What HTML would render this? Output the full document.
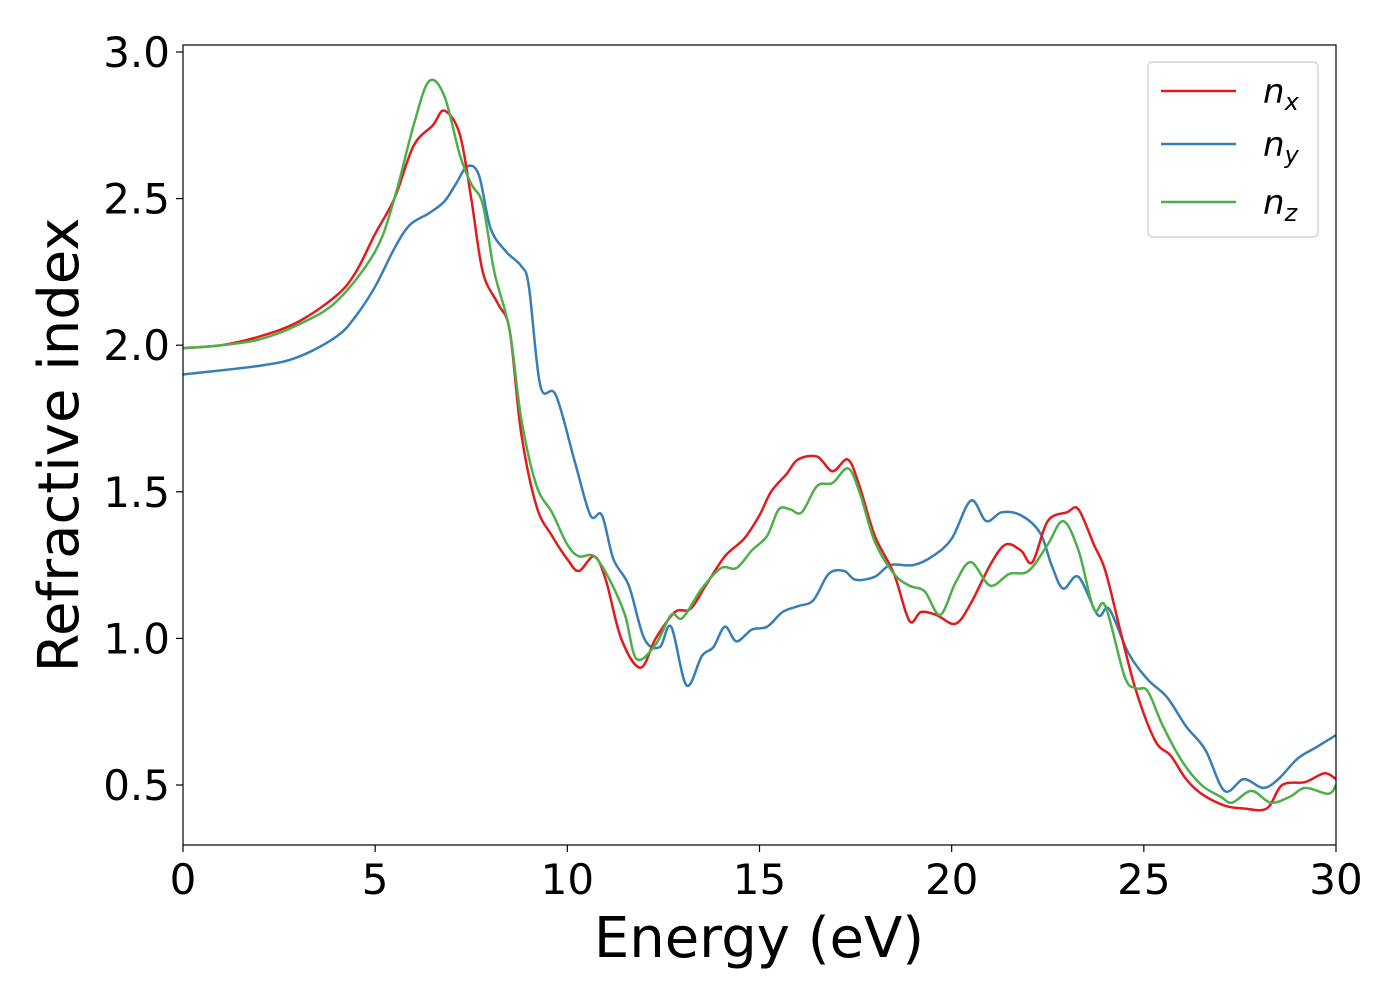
<!DOCTYPE html>
<html><head><meta charset="utf-8"><style>
html,body{margin:0;padding:0;background:#fff;}
svg text{font-family:"DejaVu Sans","Liberation Sans",sans-serif;fill:#000;}
</style></head><body>
<svg id="chart" width="1400" height="1000" viewBox="0 0 1400 1000" xmlns="http://www.w3.org/2000/svg">
<rect width="1400" height="1000" fill="#fff"/>
<g id="series"></g>
<rect x="183" y="45" width="1153" height="800" fill="none" stroke="#000" stroke-width="1.2"/>
<g id="ticks"></g>
<text x="759" y="957" font-size="56" text-anchor="middle">Energy (eV)</text>
<text transform="translate(78,445) rotate(-90)" font-size="56" text-anchor="middle">Refractive index</text>
<g>
<rect x="1148" y="62" width="170" height="175" rx="5" fill="#fff" fill-opacity="0.8" stroke="#ccc" stroke-width="1.2"/>
<g><line x1="1161" y1="91" x2="1236" y2="91" stroke="#e41a1c" stroke-width="2.5"/><text x="1263" y="103" font-size="34" font-style="italic">n<tspan font-size="24" dy="7">x</tspan></text></g>
<g><line x1="1161" y1="144" x2="1236" y2="144" stroke="#377eb8" stroke-width="2.5"/><text x="1263" y="156" font-size="34" font-style="italic">n<tspan font-size="24" dy="7">y</tspan></text></g>
<g><line x1="1161" y1="202" x2="1236" y2="202" stroke="#4daf4a" stroke-width="2.5"/><text x="1263" y="214" font-size="34" font-style="italic">n<tspan font-size="24" dy="7">z</tspan></text></g>
</g>
</svg>
<script>
const xTicks=[0,5,10,15,20,25,30];
const yTicks=[0.5,1.0,1.5,2.0,2.5,3.0];
const nxE=[0,1,2,3,4,4.5,5,5.5,6,6.5,6.8,7.2,7.5,7.8,8.2,8.5,8.8,9.2,9.6,10,10.3,10.7,11,11.4,11.9,12.3,12.8,13.2,13.6,14.1,14.6,15,15.3,15.7,16,16.5,16.9,17.3,17.6,18,18.5,18.9,19.2,19.6,20.1,20.5,21,21.4,21.8,22.1,22.5,23,23.3,23.7,24,24.4,24.8,25.3,25.7,26.1,26.5,27.1,27.6,28.2,28.6,29.2,29.7,30];
const nxV=[1.99,2.0,2.03,2.08,2.17,2.25,2.38,2.5,2.68,2.75,2.8,2.72,2.5,2.25,2.14,2.05,1.7,1.45,1.35,1.27,1.23,1.28,1.2,1.0,0.9,1.0,1.09,1.1,1.18,1.28,1.34,1.42,1.5,1.56,1.61,1.62,1.57,1.61,1.52,1.35,1.22,1.06,1.09,1.08,1.05,1.12,1.25,1.32,1.3,1.26,1.4,1.43,1.44,1.32,1.23,1.02,0.82,0.65,0.6,0.52,0.47,0.43,0.42,0.42,0.5,0.51,0.54,0.52];
const nyE=[0,2,3,4,4.5,5,5.5,5.9,6.4,6.8,7.1,7.4,7.7,8,8.4,8.8,9,9.3,9.7,10.2,10.6,10.9,11.2,11.6,12,12.4,12.7,13.1,13.5,13.8,14.1,14.4,14.8,15.2,15.6,16,16.4,16.8,17.2,17.5,18,18.4,19,19.5,20,20.5,20.9,21.3,21.8,22.3,22.6,22.9,23.3,23.8,24.1,24.6,25.1,25.6,26.1,26.6,27.1,27.6,28.1,28.5,29,29.5,30];
const nyV=[1.9,1.93,1.96,2.03,2.1,2.2,2.33,2.41,2.45,2.49,2.55,2.61,2.58,2.4,2.32,2.27,2.2,1.86,1.83,1.6,1.42,1.42,1.27,1.18,1.0,0.97,1.04,0.84,0.94,0.97,1.04,0.99,1.03,1.04,1.09,1.11,1.13,1.22,1.23,1.2,1.21,1.25,1.25,1.28,1.34,1.47,1.4,1.43,1.42,1.36,1.25,1.17,1.21,1.08,1.1,0.95,0.86,0.8,0.7,0.62,0.48,0.52,0.49,0.52,0.59,0.63,0.67];
const nzE=[0,1,2,3,4,5,5.5,6,6.4,6.8,7.2,7.5,7.8,8.1,8.5,8.8,9.2,9.6,10,10.3,10.7,11.1,11.5,11.8,12.3,12.7,13,13.5,14,14.4,14.8,15.2,15.5,15.8,16.1,16.5,16.9,17.3,17.6,18,18.5,18.9,19.3,19.7,20.1,20.5,21,21.5,22,22.5,22.9,23.3,23.7,24,24.5,24.8,25.1,25.5,26,26.5,27,27.3,27.8,28.3,28.8,29.2,29.8,30];
const nzV=[1.99,2.0,2.02,2.07,2.15,2.32,2.5,2.75,2.9,2.85,2.65,2.55,2.48,2.25,2.05,1.75,1.52,1.43,1.32,1.28,1.28,1.2,1.08,0.93,0.98,1.08,1.07,1.17,1.24,1.24,1.3,1.35,1.44,1.44,1.43,1.52,1.53,1.58,1.5,1.33,1.22,1.18,1.16,1.08,1.19,1.26,1.18,1.22,1.23,1.32,1.4,1.3,1.1,1.11,0.87,0.83,0.82,0.7,0.58,0.5,0.46,0.44,0.48,0.44,0.46,0.49,0.47,0.5];
const X0=183,X1=1336,XMIN=0,XMAX=30;
const YA=52,YB=785,VA=3.0,VB=0.5;
function sx(e){return X0+(e-XMIN)/(XMAX-XMIN)*(X1-X0);}
function sy(v){return YA+(VA-v)/(VA-VB)*(YB-YA);}
const NS="http://www.w3.org/2000/svg";
function smoothPath(E,V){
  const p=E.map((e,i)=>[sx(e),sy(V[i])]);
  let d="M"+p[0][0].toFixed(2)+","+p[0][1].toFixed(2);
  for(let i=0;i<p.length-1;i++){
    const p0=p[Math.max(0,i-1)],p1=p[i],p2=p[i+1],p3=p[Math.min(p.length-1,i+2)];
    const c1=[p1[0]+(p2[0]-p0[0])/6,p1[1]+(p2[1]-p0[1])/6];
    const c2=[p2[0]-(p3[0]-p1[0])/6,p2[1]-(p3[1]-p1[1])/6];
    d+=" C"+c1[0].toFixed(2)+","+c1[1].toFixed(2)+" "+c2[0].toFixed(2)+","+c2[1].toFixed(2)+" "+p2[0].toFixed(2)+","+p2[1].toFixed(2);
  }
  return d;
}
const sg=document.getElementById("series");
function addLine(E,V,color,name){
  const path=document.createElementNS(NS,"path");
  path.setAttribute("d",smoothPath(E,V));
  path.setAttribute("fill","none");
  path.setAttribute("stroke",color);
  path.setAttribute("stroke-width","2.5");
  path.setAttribute("clip-path","url(#clip)");
  
  
  sg.appendChild(path);
}
const defs=document.createElementNS(NS,"defs");
defs.innerHTML='<clipPath id="clip"><rect x="183" y="45" width="1153" height="800"/></clipPath>';
document.getElementById("chart").insertBefore(defs,sg);
addLine(nyE,nyV,"#377eb8","series-ny-line");
addLine(nxE,nxV,"#e41a1c","series-nx-line");
addLine(nzE,nzV,"#4daf4a","series-nz-line");
const tg=document.getElementById("ticks");
xTicks.forEach(t=>{
  const x=sx(t);
  const l=document.createElementNS(NS,"line");
  l.setAttribute("x1",x);l.setAttribute("x2",x);l.setAttribute("y1",845);l.setAttribute("y2",852);
  l.setAttribute("stroke","#000");l.setAttribute("stroke-width","1.2");
  
  
  tg.appendChild(l);
  const tx=document.createElementNS(NS,"text");
  tx.setAttribute("x",x);tx.setAttribute("y",894);tx.setAttribute("font-size","42");tx.setAttribute("text-anchor","middle");
  tx.textContent=String(t);
  
  
  tg.appendChild(tx);
});
yTicks.forEach(t=>{
  const y=sy(t);
  const l=document.createElementNS(NS,"line");
  l.setAttribute("x1",176);l.setAttribute("x2",183);l.setAttribute("y1",y);l.setAttribute("y2",y);
  l.setAttribute("stroke","#000");l.setAttribute("stroke-width","1.2");
  
  
  tg.appendChild(l);
  const tx=document.createElementNS(NS,"text");
  tx.setAttribute("x",170);tx.setAttribute("y",y+15);tx.setAttribute("font-size","42");tx.setAttribute("text-anchor","end");
  tx.textContent=t.toFixed(1);
  
  
  tg.appendChild(tx);
});
</script>
</body></html>
